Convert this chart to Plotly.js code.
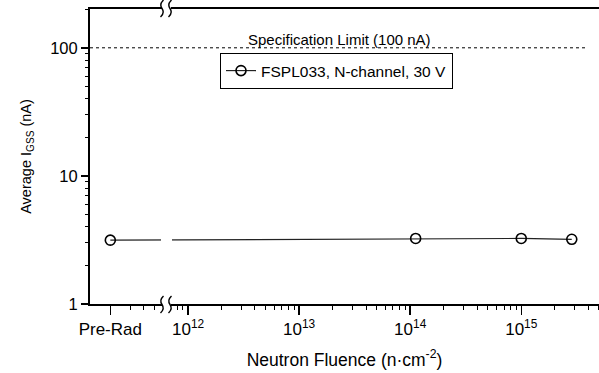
<!DOCTYPE html>
<html>
<head>
<meta charset="utf-8">
<script src="https://cdn.plot.ly/plotly-3.0.1.min.js"></script>
<style>html,body{margin:0;padding:0;background:#fff;}#chart{width:599px;height:373px;}</style>
</head>
<body>
<div id="chart"></div>
<script>
// ---- data ----
const seriesName = 'FSPL033, N-channel, 30 V';
const preRadLabel = 'Pre-Rad';
const preRadIgss = 3.15;
const fluence = [1.12e14, 1.0e15, 2.85e15];
const igssFluence = [3.25, 3.25, 3.2];
const specLimit = 100;
const specLabel = 'Specification Limit (100 nA)';
const decadeExponents = [12, 13, 14, 15];
const yTickVals = [1, 10, 100];
const yTickText = ['1', '10', '100'];

// ---- layout constants ----
const PRE_RAD_POS = 11.3;          // position of Pre-Rad on the log10 axis
const X_RANGE = [11.117, 15.70];
const SPEC_END = 15.6;
const Y_RANGE = [0, 2.303];
const L = 90, T = 9, W = 599, H = 373, B = 69, R = 0;
const PW = W - L - R, PH = H - T - B;
const px = v => (v - L) / PW;
const py = v => (T + PH - v) / PH;

const FONT = 'Liberation Sans, Arial, Helvetica, sans-serif';

const xTickVals = [PRE_RAD_POS].concat(decadeExponents);
const xTickText = [preRadLabel].concat(decadeExponents.map(e => '10<sup>' + e + '</sup>'));
const xMinor = [];
for (let n = 11; n <= 15; n++) for (let k = 2; k <= 9; k++) {
  const v = n + Math.log10(k);
  if (v > PRE_RAD_POS + 0.05 && v < X_RANGE[1]) xMinor.push(v);
}
const yMinor = [];
for (let n = 0; n <= 2; n++) for (let k = 2; k <= 9; k++) {
  const v = k * Math.pow(10, n);
  if (Math.log10(v) < Y_RANGE[1]) yMinor.push(v);
}

const traces = [
  {
    x: [X_RANGE[0], SPEC_END], y: [specLimit, specLimit],
    mode: 'lines', line: {color: '#000', width: 1, dash: 'dot'},
    showlegend: false, hoverinfo: 'skip'
  },
  {
    name: seriesName,
    x: [PRE_RAD_POS].concat(fluence.map(Math.log10)),
    y: [preRadIgss].concat(igssFluence),
    mode: 'lines+markers',
    line: {color: '#222', width: 1.2},
    marker: {symbol: 'circle-open', size: 10, color: '#000', line: {width: 1.6, color: '#000'}}
  }
];

function breakMark(x, y0, y1) {
  const ym = (y0 + y1) / 2;
  return `M ${px(x + 1.5)},${py(y0)} Q ${px(x - 3)},${py(y0 + (ym - y0) * 0.5)} ${px(x)},${py(ym)} Q ${px(x + 3)},${py(ym + (y1 - ym) * 0.5)} ${px(x - 1.5)},${py(y1)}`;
}

const shapes = [
  {type: 'rect', xref: 'paper', yref: 'paper', x0: px(162), x1: px(171), y0: py(13), y1: py(-2), fillcolor: '#fff', line: {width: 0}, layer: 'above'},
  {type: 'rect', xref: 'paper', yref: 'paper', x0: px(162), x1: px(171), y0: py(310), y1: py(299), fillcolor: '#fff', line: {width: 0}, layer: 'above'},
  {type: 'rect', xref: 'paper', yref: 'paper', x0: px(161), x1: px(172), y0: py(247), y1: py(234), fillcolor: '#fff', line: {width: 0}, layer: 'above'},
  {type: 'path', xref: 'paper', yref: 'paper', path: breakMark(162, 0, 17), line: {color: '#000', width: 1.4}, layer: 'above'},
  {type: 'path', xref: 'paper', yref: 'paper', path: breakMark(170, 0, 17), line: {color: '#000', width: 1.4}, layer: 'above'},
  {type: 'path', xref: 'paper', yref: 'paper', path: breakMark(162, 296, 313), line: {color: '#000', width: 1.4}, layer: 'above'},
  {type: 'path', xref: 'paper', yref: 'paper', path: breakMark(170, 296, 313), line: {color: '#000', width: 1.4}, layer: 'above'}
];

const layout = {
  width: W, height: H,
  margin: {l: L, r: R, t: T, b: B, pad: 0},
  paper_bgcolor: '#fff', plot_bgcolor: '#fff',
  font: {family: FONT, color: '#000', size: 16},
  showlegend: true,
  legend: {
    x: px(220), y: py(53), xanchor: 'left', yanchor: 'top',
    bgcolor: '#fff', bordercolor: '#000', borderwidth: 1,
    font: {size: 15.5, family: FONT, color: '#000'}
  },
  xaxis: {
    type: 'linear', range: X_RANGE, showgrid: false, zeroline: false,
    showline: true, linecolor: '#000', linewidth: 2, mirror: true,
    tickmode: 'array', tickvals: xTickVals, ticktext: xTickText,
    ticks: 'outside', ticklen: 9, tickwidth: 1.5, tickcolor: '#000',
    tickfont: {size: 17, family: FONT},
    minor: {tickmode: 'array', tickvals: xMinor, ticks: 'outside', ticklen: 4, tickwidth: 1, tickcolor: '#000', showgrid: false},
    title: {text: 'Neutron Fluence (n·cm<sup>-2</sup>)', font: {size: 17.5, family: FONT}, standoff: 15}
  },
  yaxis: {
    type: 'log', range: Y_RANGE, showgrid: false, zeroline: false,
    showline: true, linecolor: '#000', linewidth: 2, mirror: false,
    tickmode: 'array', tickvals: yTickVals, ticktext: yTickText,
    ticks: 'outside', ticklen: 7, tickwidth: 1.5, tickcolor: '#000',
    tickfont: {size: 16.5, family: FONT},
    minor: {tickmode: 'array', tickvals: yMinor, ticks: 'outside', ticklen: 3, tickwidth: 1, tickcolor: '#000', showgrid: false},
    title: {text: 'Average I<sub>GSS</sub> (nA)', font: {size: 14.5, family: FONT}, standoff: 15}
  },
  shapes: shapes,
  annotations: [
    {xref: 'paper', yref: 'y', x: px(339), y: Math.log10(specLimit), yanchor: 'bottom', xanchor: 'center', yshift: -2,
     text: specLabel, showarrow: false, font: {size: 15, family: FONT, color: '#000'}}
  ]
};

Plotly.newPlot('chart', traces, layout, {staticPlot: true, displayModeBar: false});
</script>
</body>
</html>
